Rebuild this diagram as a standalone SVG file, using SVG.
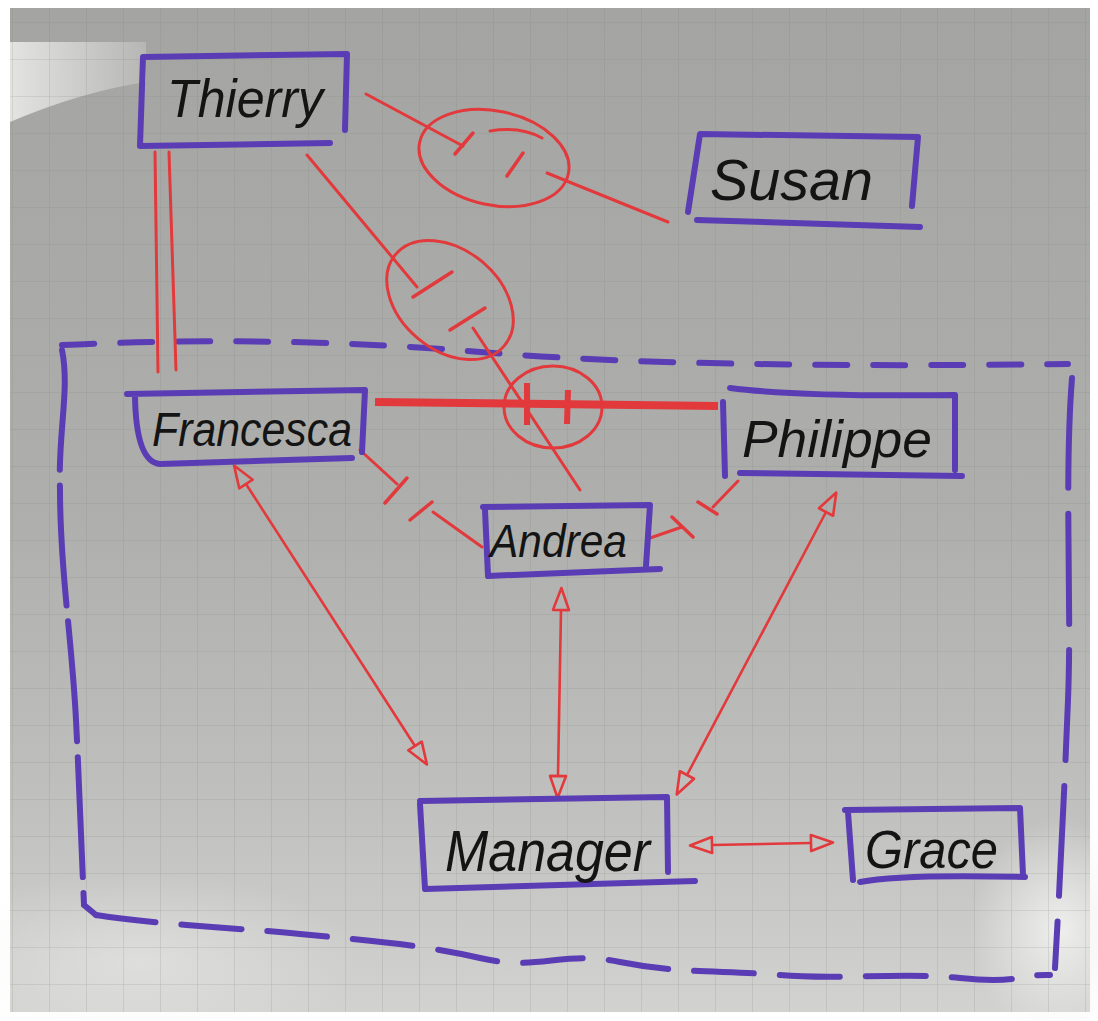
<svg xmlns="http://www.w3.org/2000/svg" width="1098" height="1021" viewBox="0 0 1098 1021">
<defs>
<linearGradient id="paper" x1="0" y1="0" x2="0" y2="1">
<stop offset="0" stop-color="#a4a5a2"/>
<stop offset="0.5" stop-color="#aeafac"/>
<stop offset="0.78" stop-color="#bfc0bd"/>
<stop offset="1" stop-color="#d2d3d0"/>
</linearGradient>
<radialGradient id="glareR" cx="0.5" cy="0.5" r="0.5">
<stop offset="0" stop-color="#f2f2f0" stop-opacity="0.9"/>
<stop offset="1" stop-color="#f2f2f0" stop-opacity="0"/>
</radialGradient>
<linearGradient id="glareTL" x1="0" y1="0" x2="1" y2="0">
<stop offset="0" stop-color="#eeeeec"/>
<stop offset="1" stop-color="#b9bab7"/>
</linearGradient>
<pattern id="grid" width="37" height="37" patternUnits="userSpaceOnUse" x="12" y="22">
<path d="M0,0 L37,0 M0,0 L0,37" fill="none" stroke="#7f807c" stroke-width="1.1" stroke-opacity="0.35"/>
</pattern>
<marker id="open" markerUnits="userSpaceOnUse" markerWidth="30" markerHeight="30" refX="0" refY="0" orient="auto-start-reverse" overflow="visible">
<path d="M0,-8 L22,0 L0,8 Z" fill="none" stroke="#e2393c" stroke-width="2.6" stroke-linejoin="round"/>
</marker>
<style>
.box{fill:none;stroke:#5a3db4;stroke-width:6;stroke-linecap:round;stroke-linejoin:round}
.lbl{font-family:"Liberation Sans","DejaVu Sans",sans-serif;fill:#141414;font-style:italic}
.red{fill:none;stroke:#e2393c;stroke-width:3;stroke-linecap:round}
.bar{fill:none;stroke:#e2393c;stroke-width:3.5;stroke-linecap:round}
.oval{fill:none;stroke:#e2393c;stroke-width:3}
.arr{fill:none;stroke:#e2393c;stroke-width:2.6;marker-start:url(#open);marker-end:url(#open)}
.dash{fill:none;stroke:#5a3db4;stroke-width:6;stroke-linecap:round}
</style>
</defs>
<rect width="1098" height="1021" fill="#ffffff"/>
<g id="photo">
<rect x="10" y="8" width="1080" height="1004" fill="url(#paper)"/>
<path d="M10,42 L146,42 L146,82 Q80,92 10,122 Z" fill="url(#glareTL)" opacity="0.85"/>
<ellipse cx="1060" cy="930" rx="90" ry="110" fill="url(#glareR)"/>
<ellipse cx="140" cy="960" rx="220" ry="90" fill="url(#glareR)" opacity="0.5"/>
<rect x="10" y="8" width="1080" height="1004" fill="url(#grid)"/>
</g>

<g id="team-boundary">
<path class="dash" d="M62,345 Q280,335 480,352 T1068,364" stroke-dasharray="32 26"/>
<path class="dash" d="M1072,378 C1064,480 1072,600 1068,700 S1060,880 1055,968" stroke-dasharray="110 26" stroke-width="5"/>
<path class="dash" d="M62,350 C70,390 58,430 60,490 C60,570 72,640 76,720 C80,800 82,860 84,905 L96,915" stroke-dasharray="120 16" stroke-width="4.5"/>
<path class="dash" d="M96,915 C160,925 240,928 300,934 S420,944 480,958 S560,950 620,962 S720,970 780,975 S900,972 960,978 S1020,974 1050,975" stroke-dasharray="60 26" stroke-width="5"/>
</g>

<g id="connectors">
<path class="red" d="M155,152 L158,372 M169,152 L176,370"/>
<path class="red" d="M366,94 L463,146"/>
<path class="bar" d="M455,154 L473,133"/>
<ellipse class="oval" cx="494" cy="158" rx="76" ry="47" transform="rotate(12 494 158)"/>
<path class="red" d="M490,131 Q520,126 542,138"/>
<path class="bar" d="M507,176 L523,153"/>
<path class="red" d="M547,173 L668,222"/>
<path class="red" d="M307,155 L417,287"/>
<path class="bar" d="M413,297 L452,272"/>
<ellipse class="oval" cx="450" cy="300" rx="71" ry="50" transform="rotate(40 450 300)"/>
<path class="bar" d="M450,330 L485,308"/>
<path class="red" d="M473,328 L580,490"/>
<path fill="none" stroke="#e2393c" stroke-width="8" stroke-linecap="butt" d="M375,402 L718,406"/>
<ellipse class="oval" cx="553" cy="407" rx="49" ry="41"/>
<path fill="none" stroke="#e2393c" stroke-width="6" d="M527,383 L527,425 M568,390 L567,424"/>
<path class="red" d="M360,450 L397,484 M433,512 L482,547"/>
<path class="bar" d="M385,503 L407,478 M410,520 L432,502"/>
<path class="red" d="M650,538 L682,527 M713,507 L738,481"/>
<path class="bar" d="M672,517 L693,537 M698,502 L717,514"/>
<path class="arr" d="M246,484 L415,746"/>
<path class="arr" d="M561,610 L558,776"/>
<path class="arr" d="M826,512 L687,775"/>
<path class="arr" d="M712,845 L811,843"/>
</g>

<g id="node-thierry">
<path class="box" d="M330,143 L140,146 L143,57 L347,54 L345,130"/>
<text class="lbl" x="167" y="117" font-size="54" textLength="156" lengthAdjust="spacingAndGlyphs">Thierry</text>
</g>
<g id="node-susan">
<path class="box" d="M688,212 L700,134 L918,137 L912,206 M697,220 L920,227"/>
<text class="lbl" x="710" y="200" font-size="58" textLength="163" lengthAdjust="spacingAndGlyphs">Susan</text>
</g>
<g id="node-francesca">
<path class="box" d="M127,394 L365,390 L362,452 M135,396 Q136,462 160,464 L352,458"/>
<text class="lbl" x="152" y="446" font-size="48" textLength="200" lengthAdjust="spacingAndGlyphs">Francesca</text>
</g>
<g id="node-philippe">
<path class="box" d="M730,388 Q800,397 955,395 L955,470 M723,402 L725,476 M740,473 L962,476"/>
<text class="lbl" x="742" y="457" font-size="52" textLength="190" lengthAdjust="spacingAndGlyphs">Philippe</text>
</g>
<g id="node-andrea">
<path class="box" d="M483,507 L650,505 L646,566 M485,510 L488,576 L660,569"/>
<text class="lbl" x="490" y="557" font-size="46" textLength="137" lengthAdjust="spacingAndGlyphs">Andrea</text>
</g>
<g id="node-manager">
<path class="box" d="M420,801 L667,797 L668,872 M420,804 L425,889 L695,881"/>
<text class="lbl" x="445" y="871" font-size="58" textLength="205" lengthAdjust="spacingAndGlyphs">Manager</text>
</g>
<g id="node-grace">
<path class="box" d="M845,810 L1020,808 L1023,875 M848,812 L853,880 M860,882 Q900,874 1025,877"/>
<text class="lbl" x="865" y="868" font-size="54" textLength="133" lengthAdjust="spacingAndGlyphs">Grace</text>
</g>
</svg>
